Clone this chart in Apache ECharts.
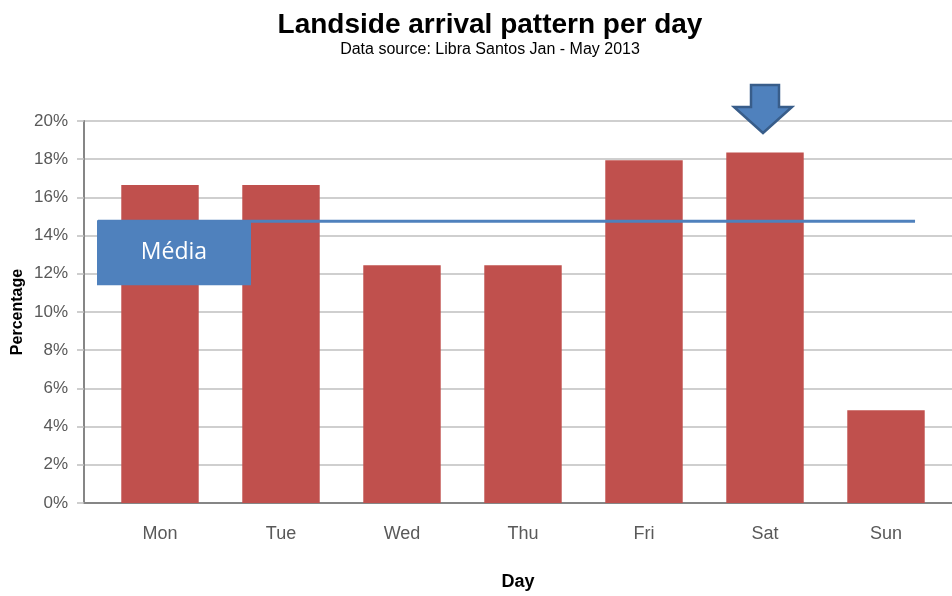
<!DOCTYPE html>
<html>
<head>
<meta charset="utf-8">
<script src="https://cdn.jsdelivr.net/npm/echarts@6/dist/echarts.min.js"></script>
<style>
  html, body { margin: 0; padding: 0; background: #fff; }
  #chart { width: 952px; height: 596px; }
</style>
</head>
<body>
<div id="chart"></div>
<script>
// data
const days = ['Mon', 'Tue', 'Wed', 'Thu', 'Fri', 'Sat', 'Sun']
const share = [16.65, 16.65, 12.45, 12.45, 17.95, 18.35, 4.85]
const yTicks = [0, 2, 4, 6, 8, 10, 12, 14, 16, 18, 20]
const mediaValue = 14.75
const mediaFrom = -0.52   // in category index units
const mediaTo = 6.24
const highlightDay = 'Sat'

const font = '"Liberation Sans", Arial, sans-serif'
const grey = '#595959'

let myChart = echarts.init(document.getElementById('chart'))
myChart.setOption({
  animation: false,
  title: {
    text: 'Landside arrival pattern per day',
    subtext: 'Data source: Libra Santos Jan - May 2013',
    left: 485, textAlign: 'center', top: 6, itemGap: 3,
    textStyle: { fontFamily: font, fontSize: 28, fontWeight: 'bold', color: '#000' },
    subtextStyle: { fontFamily: font, fontSize: 16, color: '#000' }
  },
  grid: [
    // frame with gridlines, spans full width
    { left: 84, right: 0, top: 121, bottom: 93, outerBoundsMode: 'none', containLabel: false },
    // the bars
    { left: 99.5, right: 5.5, top: 121, bottom: 93, outerBoundsMode: 'none', containLabel: false }
  ],
  xAxis: [
    {
      gridIndex: 0, type: 'category', data: days,
      name: 'Day', nameLocation: 'middle', nameGap: 70, nameMoveOverlap: false,
      nameTextStyle: { fontFamily: font, fontSize: 18, fontWeight: 'bold', color: '#000' },
      axisLine: { lineStyle: { color: '#868686', width: 2 } },
      axisTick: { show: false }, axisLabel: { show: false }
    },
    {
      gridIndex: 1, type: 'category', data: days,
      axisLine: { show: false }, axisTick: { show: false },
      axisLabel: { margin: 22, fontFamily: font, fontSize: 18, color: grey }
    },
    {
      // hidden value axis matching the categories, for the average line
      gridIndex: 1, type: 'value', min: -0.5, max: days.length - 0.5, show: false
    }
  ],
  yAxis: [
    {
      gridIndex: 0, type: 'value', min: yTicks[0], max: yTicks[yTicks.length - 1], interval: 2,
      name: 'Percentage', nameLocation: 'middle', nameGap: 58, nameRotate: 90, nameMoveOverlap: false,
      nameTextStyle: { fontFamily: font, fontSize: 16, fontWeight: 'bold', color: '#000' },
      axisLine: { show: true, lineStyle: { color: '#868686', width: 2 } },
      axisTick: { show: true, length: 7, inside: false, lineStyle: { color: '#bfbfbf', width: 1.5 } },
      axisLabel: { margin: 16, fontFamily: font, fontSize: 17, color: grey, formatter: '{value}%' },
      splitLine: { lineStyle: { color: '#bfbfbf', width: 1.5 } }
    },
    { gridIndex: 1, type: 'value', min: 0, max: 20, show: false }
  ],
  series: [
    {
      type: 'bar', xAxisIndex: 1, yAxisIndex: 1,
      data: share, barWidth: '64%',
      itemStyle: { color: '#c0504d' }
    },
    {
      type: 'line', xAxisIndex: 2, yAxisIndex: 1,
      data: [[mediaFrom, mediaValue], [mediaTo, mediaValue]],
      showSymbol: false, clip: false,
      lineStyle: { color: '#4f81bd', width: 3 }
    }
  ]
})

// annotations: "Média" label box and arrow over the highlighted day
const dayX = myChart.convertToPixel({ xAxisIndex: 1 }, highlightDay)
const lineY = myChart.convertToPixel({ yAxisIndex: 1 }, mediaValue)
myChart.setOption({
  graphic: [
    {
      type: 'rect', left: 97, top: lineY - 1, z: 100,
      shape: { width: 154, height: 65 },
      style: { fill: '#4f81bd' }
    },
    {
      type: 'text', x: 174, y: lineY + 31, z: 101,
      style: { text: 'Média', fill: '#fff', font: '23px "Open Sans", sans-serif', textAlign: 'center', textVerticalAlign: 'middle' }
    },
    {
      type: 'polygon', z: 100,
      shape: {
        points: [
          [dayX - 14, 85], [dayX + 14, 85], [dayX + 14, 107], [dayX + 27, 107],
          [dayX - 2, 133], [dayX - 31, 107], [dayX - 14, 107]
        ]
      },
      style: { fill: '#4f81bd', stroke: '#385d8a', lineWidth: 2.5 }
    }
  ]
})
</script>
</body>
</html>
